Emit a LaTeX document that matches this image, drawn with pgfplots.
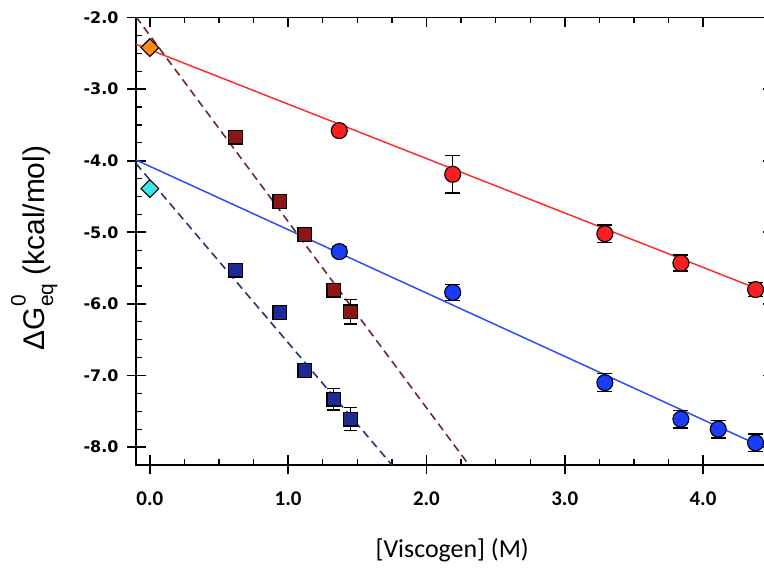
\documentclass[border=0pt]{standalone}
\usepackage{fontspec}
\usepackage{pgfplots}
\pgfplotsset{compat=1.18}

\newfontfamily\dejavu{DejaVu Sans}
\newfontfamily\carlito{Carlito}
\newfontfamily\labelfont{Liberation Sans}

\definecolor{fitred}{RGB}{255,45,45}
\definecolor{fitblue}{RGB}{45,75,255}
\definecolor{ptred}{RGB}{250,30,30}
\definecolor{ptblue}{RGB}{25,60,250}
\definecolor{sqred}{RGB}{140,22,22}
\definecolor{sqblue}{RGB}{30,40,150}
\definecolor{dashred}{RGB}{110,40,50}
\definecolor{dashblue}{RGB}{45,50,115}
\definecolor{dorange}{RGB}{255,140,20}
\definecolor{dcyan}{RGB}{60,230,230}

% Delta G with stacked super- and subscript
\newcommand{\dGeq}{ΔG\rlap{\raisebox{0.62em}{\fontsize{21}{21}\selectfont 0}}\raisebox{-0.30em}{\fontsize{21}{21}\selectfont eq}}

\pgfplotsset{
  frame/.style={
    x=138.3bp, y=71.6bp,
    xmin=-0.1, xmax=4.5, ymin=-8.25, ymax=-2.0,
    anchor=south west, at={(136bp,106bp)},
    axis line style={line width=1.8bp, black},
    xtick={0,1,2,3,4}, ytick={-8,-7,...,-2},
  },
  circ/.style={only marks, mark=*, mark size=8bp,
    mark options={fill=#1, draw=black, line width=1.1bp},
    error bars/.cd, y dir=both, y explicit,
    error bar style={black, line width=1.3bp},
    error mark options={rotate=90, black, line width=1.5bp, mark size=7.5bp}},
  sq/.style={only marks, mark=square*, mark size=6.8bp,
    mark options={fill=#1, draw=black, line width=1.3bp},
    error bars/.cd, y dir=both, y explicit,
    error bar style={black, line width=1.3bp},
    error mark options={rotate=90, black, line width=1.5bp, mark size=6.5bp}},
  dia/.style={only marks, mark=square*, mark size=6.3bp,
    mark options={rotate=45, fill=#1, draw=black, line width=1.1bp}},
}

\begin{document}
\begin{tikzpicture}
\useasboundingbox (0,0) rectangle (764bp,571bp);

% outer half of the major ticks on the left and bottom axes
\begin{axis}[frame, tick align=outside, tick pos=left,
  major tick length=9.5bp, minor tick num=0,
  xticklabels={}, yticklabels={},
  major tick style={line width=1.7bp, black}]
\end{axis}

\begin{axis}[frame, tick align=inside,
  major tick length=9.5bp, minor tick length=5.5bp, minor tick num=3,
  tick style={black, line width=1.7bp},
  minor tick style={line width=1.3bp},
  xticklabels={0.0,1.0,2.0,3.0,4.0},
  yticklabels={-8.0,-7.0,-6.0,-5.0,-4.0,-3.0,-2.0},
  xticklabel style={font=\carlito\bfseries\fontsize{21}{21}\selectfont, yshift=-23bp},
  yticklabel style={font=\dejavu\bfseries\fontsize{16}{16}\selectfont, xshift=-14bp},
  xlabel={{[}Viscogen{]} (M)},
  xlabel style={font=\carlito\fontsize{26}{26}\selectfont,
    at={(axis description cs:0.497,-0.2056)}, anchor=base},
  ylabel={\dGeq\ (kcal/mol)},
  ylabel style={font=\labelfont\fontsize{30}{30}\selectfont,
    at={(axis description cs:-0.16,0.485)}, anchor=center},
]

% linear fits
\addplot[fitred, line width=1.5bp] coordinates {(-0.1,-2.374) (4.5,-5.87)};
\addplot[fitblue, line width=1.5bp] coordinates {(-0.1,-3.99) (4.5,-8.06)};
\addplot[dashred, line width=1.6bp, dash pattern=on 8bp off 5bp] coordinates {(-0.1,-1.99) (2.4,-8.49)};
\addplot[dashblue, line width=1.6bp, dash pattern=on 8bp off 5bp] coordinates {(-0.1,-4.04) (1.9,-8.59)};

% square series
\addplot[sq=sqred] coordinates {
  (0.62,-3.67) +- (0,0.09)
  (0.94,-4.57) +- (0,0.08)
  (1.12,-5.03) +- (0,0.04)
  (1.33,-5.81) +- (0,0.05)
  (1.45,-6.11) +- (0,0.17)
};
\addplot[sq=sqblue] coordinates {
  (0.62,-5.53) +- (0,0.05)
  (0.94,-6.12) +- (0,0.10)
  (1.12,-6.93) +- (0,0.06)
  (1.33,-7.33) +- (0,0.15)
  (1.45,-7.61) +- (0,0.16)
};

% circle series
\addplot[circ=ptred] coordinates {
  (1.37,-3.58) +- (0,0.04)
  (2.19,-4.19) +- (0,0.26)
  (3.29,-5.02) +- (0,0.12)
  (3.84,-5.43) +- (0,0.11)
  (4.38,-5.80) +- (0,0.10)
};
\addplot[circ=ptblue] coordinates {
  (1.37,-5.27) +- (0,0.07)
  (2.19,-5.84) +- (0,0.11)
  (3.29,-7.10) +- (0,0.125)
  (3.84,-7.61) +- (0,0.12)
  (4.11,-7.75) +- (0,0.12)
  (4.38,-7.94) +- (0,0.12)
};

% zero-viscogen values
\addplot[dia=dorange] coordinates {(0,-2.42)};
\addplot[dia=dcyan] coordinates {(0,-4.39)};

\end{axis}
\end{tikzpicture}
\end{document}
